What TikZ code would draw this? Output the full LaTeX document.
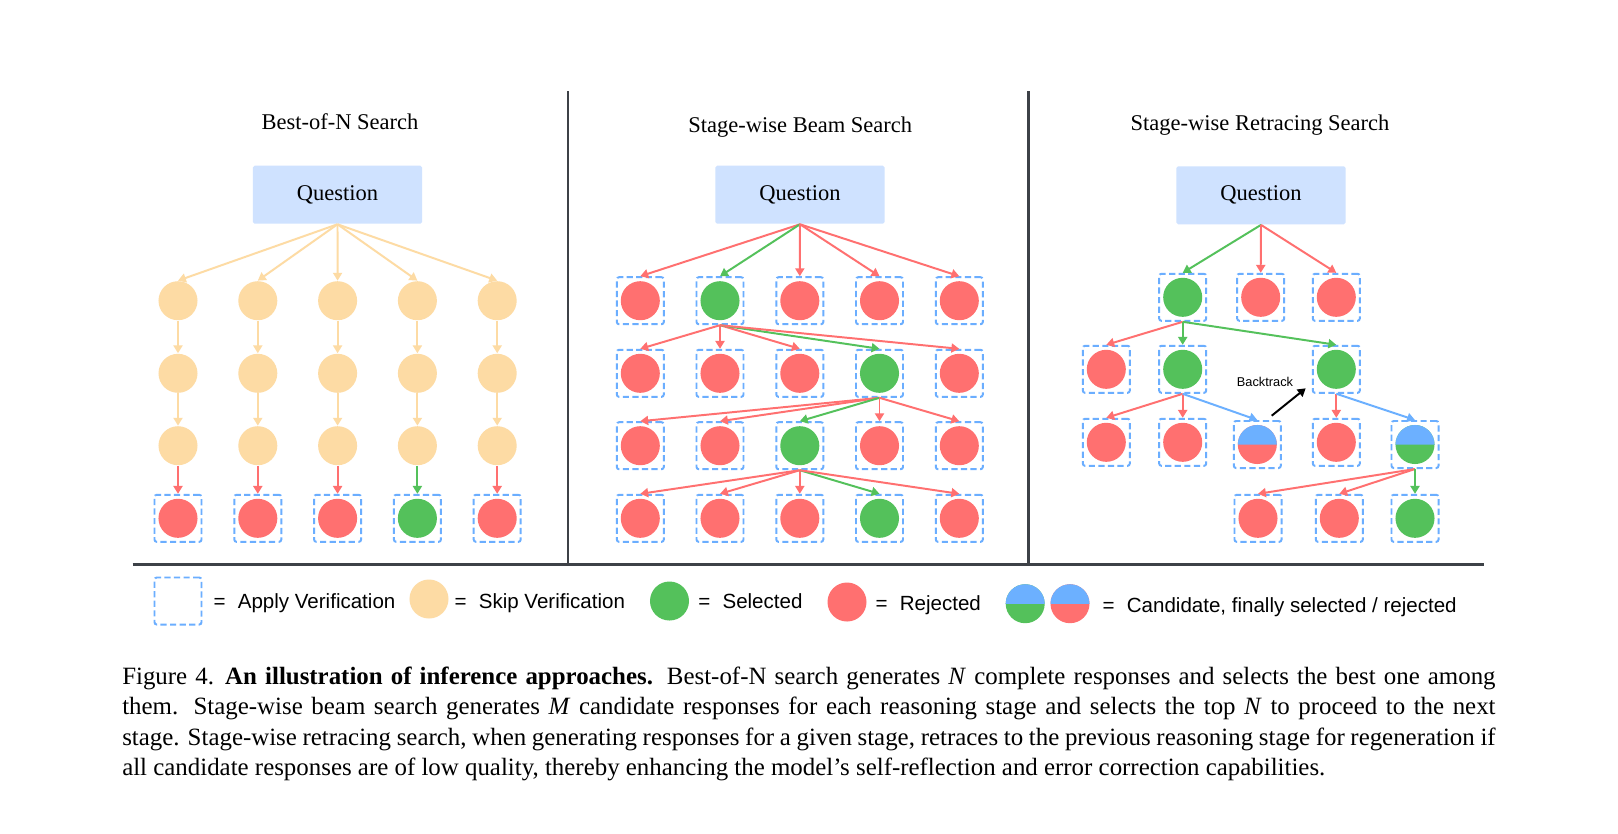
\documentclass[tikz,border=0pt]{standalone}
\usepackage{fontspec}
\setmainfont{Liberation Serif}
\newfontfamily\sansfont{Liberation Sans}
\usetikzlibrary{arrows.meta}

\definecolor{qfill}{RGB}{207,226,255}
\definecolor{rejc}{RGB}{255,112,112}
\definecolor{selc}{RGB}{84,193,91}
\definecolor{skipc}{RGB}{253,219,164}
\definecolor{vblue}{RGB}{107,174,255}
\definecolor{candc}{RGB}{108,176,255}
\definecolor{rulec}{RGB}{61,65,71}

\tikzset{
  paneltitle/.style={anchor=base, inner sep=0, font=\fontsize{8}{9.6}\selectfont},
  question/.style={fill=qfill, rounded corners=0.6pt, minimum width=2.1125cm, minimum height=0.725cm, inner sep=0, font=\fontsize{8}{9.6}\selectfont},
  disc/.style={circle, fill=#1, minimum size=0.4875cm, inner sep=0},
  halfdisc/.style={disc=#1, path picture={\fill[candc] ([xshift=-1cm]path picture bounding box.center) rectangle ([xshift=1cm,yshift=1cm]path picture bounding box.center);}},
  vbox/.style={rectangle, draw=vblue, line width=0.7pt, dash pattern=on 2.2pt off 1.2pt, rounded corners=0.8pt, minimum size=0.5875cm, inner sep=0},
  vnode/.style={vbox, path picture={\fill[#1] (path picture bounding box.center) circle[radius=0.244cm];}},
  hnode/.style={vbox, path picture={
      \fill[#1] (path picture bounding box.center) circle[radius=0.244cm];
      \clip (path picture bounding box.center) circle[radius=0.244cm];
      \fill[candc] ([xshift=-1cm]path picture bounding box.center) rectangle ([xshift=1cm,yshift=1cm]path picture bounding box.center);}},
  arr/.style={draw=#1, line width=0.7pt, -{Triangle[width=3.2pt,length=2.8pt]}},
  legendtext/.style={anchor=base west, inner sep=0, font=\sansfont\fontsize{7.3}{8.8}\selectfont},
  rulel/.style={draw=rulec, line width=0.75pt}
}

\begin{document}
\begin{tikzpicture}[x=0.0125cm, y=-0.0125cm]
\path[use as bounding box, fill=white] (0,0) rectangle (1618,833);

% Best-of-N
\node[paneltitle] (t1) at (340,129) {Best-of-N Search};
\node[question] (q1) at (337.5,194.7) {Question};
\foreach \i/\x/\col in {1/178/rejc, 2/257.8/rejc, 3/337.6/rejc, 4/417.4/selc, 5/497.2/rejc} {
  \node[disc=skipc] (a1\i) at (\x,300.7) {};
  \node[disc=skipc] (a2\i) at (\x,373.3) {};
  \node[disc=skipc] (a3\i) at (\x,445.7) {};
  \node[vnode=\col] (a4\i) at (\x,518.3) {};
  \draw[arr=skipc] (q1.south) -- (a1\i.north);
  \draw[arr=skipc] (a1\i) -- (a2\i);
  \draw[arr=skipc] (a2\i) -- (a3\i);
  \draw[arr=\col] (a3\i) -- (a4\i);
}

% Beam search
\node[paneltitle] (t2) at (800.3,132.3) {Stage-wise Beam Search};
\node[question] (q2) at (800,194.7) {Question};
\foreach \row/\y/\sel/\src in {1/300.7/2/q2, 2/373.3/4/b12, 3/445.7/3/b24, 4/518.3/4/b33} {
  \foreach \i/\x in {1/640.3, 2/720, 3/799.8, 4/879.5, 5/959.3} {
    \ifnum\i=\sel \def\col{selc}\else\def\col{rejc}\fi
    \node[vnode=\col] (b\row\i) at (\x,\y) {};
    \draw[arr=\col] (\src.south) -- (b\row\i.north);
  }
}

% Retracing search
\node[paneltitle] (t3) at (1260,130.7) {Stage-wise Retracing Search};
\node[question] (q3) at (1261,195.3) {Question};
\node[vnode=selc] (c11) at (1182.7,297.3) {};
\node[vnode=rejc] (c12) at (1260.7,297.3) {};
\node[vnode=rejc] (c13) at (1336.3,297.3) {};
\node[vnode=rejc] (c21) at (1106.3,369.3) {};
\node[vnode=selc] (c22) at (1182.7,369.3) {};
\node[vnode=selc] (c23) at (1336.3,369.3) {};
\node[vnode=rejc] (c31) at (1106.3,442.3) {};
\node[vnode=rejc] (c32) at (1182.7,442.3) {};
\node[hnode=rejc] (c33) at (1257.3,444.5) {};
\node[vnode=rejc] (c34) at (1336.3,442.3) {};
\node[hnode=selc] (c35) at (1415,444.5) {};
\node[vnode=rejc] (c41) at (1258,518.3) {};
\node[vnode=rejc] (c42) at (1339.3,518.3) {};
\node[vnode=selc] (c43) at (1415,518.3) {};

\draw[arr=selc] (q3.south) -- (c11.north);
\draw[arr=rejc] (q3.south) -- (c12.north);
\draw[arr=rejc] (q3.south) -- (c13.north);
\draw[arr=rejc] (c11.south) -- (c21.north);
\draw[arr=selc] (c11.south) -- (c22.north);
\draw[arr=selc] (c11.south) -- (c23.north);
\draw[arr=rejc] (c22.south) -- (c31.north);
\draw[arr=rejc] (c22.south) -- (c32.north);
\draw[arr=candc] (c22.south) -- (c33.north);
\draw[arr=rejc] (c23.south) -- (c34.north);
\draw[arr=candc] (c23.south) -- (c35.north);
\draw[arr=rejc] (c35.south) -- (c41.north);
\draw[arr=rejc] (c35.south) -- (c42.north);
\draw[arr=selc] (c35.south) -- (c43.north);

\node[inner sep=0, font=\sansfont\fontsize{4.55}{5.5}\selectfont] (bt) at (1265,381.7) {Backtrack};
\coordinate (bts) at (1271.7,415.7);
\coordinate (bte) at (1305.7,388.3);
\draw[arr=black] (bts) -- (bte);

% rules
\coordinate (d1t) at (568.3,91);
\coordinate (d1b) at (568.3,564.3);
\coordinate (d2t) at (1028.5,91);
\coordinate (d2b) at (1028.5,564.3);
\coordinate (hl) at (132.7,564.3);
\coordinate (hr) at (1484.3,564.3);
\draw[rulel] (d1t) -- (d1b);
\draw[rulel] (d2t) -- (d2b);
\draw[rulel, line width=0.9pt] (hl) -- (hr);

% legend
\node[vbox] (lv) at (178,601) {};
\node[legendtext] (lvt) at (213,608.5) {=\hspace{0.6em}Apply Verification};
\node[disc=skipc] (ls) at (429,599) {};
\node[legendtext] (lst) at (454,608) {=\hspace{0.6em}Skip Verification};
\node[disc=selc] (lg) at (669.5,601) {};
\node[legendtext] (lgt) at (697.7,608.5) {=\hspace{0.6em}Selected};
\node[disc=rejc] (lr) at (847,602) {};
\node[legendtext] (lrt) at (875,610) {=\hspace{0.6em}Rejected};
\node[halfdisc=selc] (lh1) at (1025.2,603.7) {};
\node[halfdisc=rejc] (lh2) at (1070,603.7) {};
\node[legendtext] (lht) at (1102,612) {=\hspace{0.6em}Candidate, finally selected / rejected};

% caption
\node[anchor=base west, inner sep=0, text width=17.1625cm, align=justify, font=\fontsize{8.85}{10.85}\selectfont] (cap) at (121.7,684) {Figure 4.\hskip0.45em\textbf{An illustration of inference approaches.} Best-of-N search generates \textit{N} complete responses and selects the best one among\linebreak them. Stage-wise beam search generates \textit{M} candidate responses for each reasoning stage and selects the top \textit{N} to proceed to the next\linebreak stage. Stage-wise retracing search, when generating responses for a given stage, retraces to the previous reasoning stage for regeneration if\linebreak all candidate responses are of low quality, thereby enhancing the model's self-reflection and error correction capabilities.};
\end{tikzpicture}
\end{document}
